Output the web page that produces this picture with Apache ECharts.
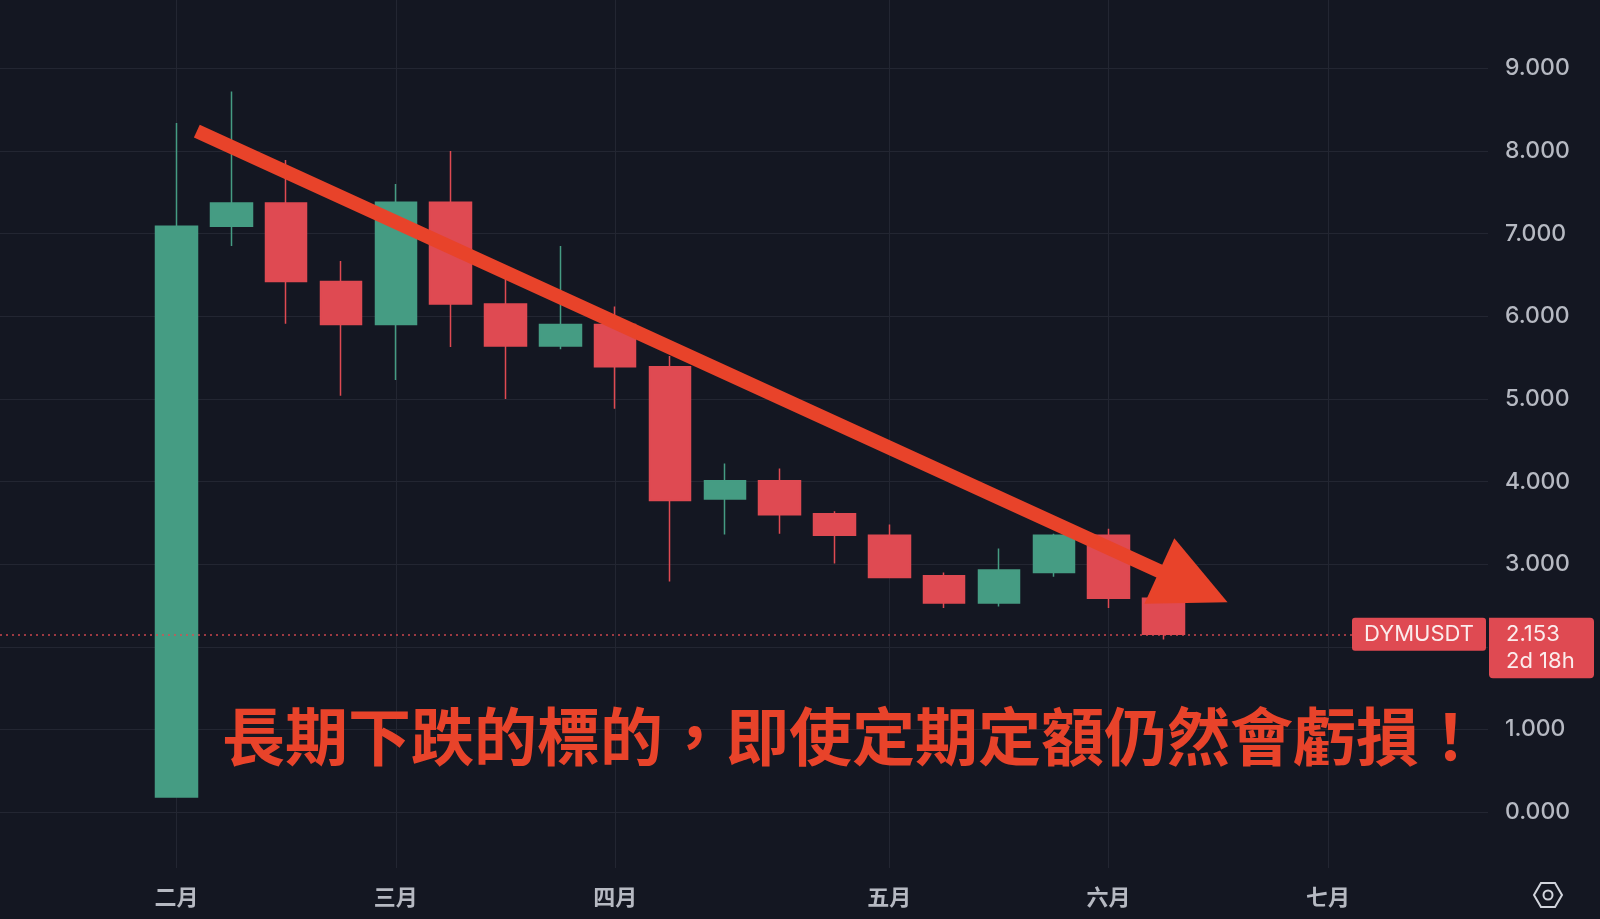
<!DOCTYPE html>
<html>
<head>
<meta charset="utf-8">
<script src="https://cdn.jsdelivr.net/npm/echarts@6/dist/echarts.min.js"></script>
<style>
html,body{margin:0;padding:0;background:#141722;}
#c{width:1600px;height:919px;}
</style>
</head>
<body>
<div id="c"></div>
<script>
// Weekly candles, DYMUSDT
const weeks  = ['2024-02-05','2024-02-12','2024-02-19','2024-02-26','2024-03-04','2024-03-11','2024-03-18','2024-03-25',
                '2024-04-01','2024-04-08','2024-04-15','2024-04-22','2024-04-29','2024-05-06','2024-05-13','2024-05-20',
                '2024-05-27','2024-06-03','2024-06-10'];
const opens  = [0.185, 7.09, 7.37, 6.42, 5.90, 7.38, 6.15, 5.64, 5.90, 5.39, 3.79, 4.01, 3.61, 3.35, 2.86, 2.53, 2.90, 3.35, 2.59];
const closes = [7.09, 7.37, 6.42, 5.90, 7.38, 6.15, 5.64, 5.90, 5.39, 3.77, 4.01, 3.60, 3.35, 2.84, 2.53, 2.93, 3.35, 2.59, 2.153];
const lows   = [0.185, 6.85, 5.91, 5.04, 5.23, 5.63, 5.00, 5.60, 4.88, 2.79, 3.36, 3.37, 3.01, 2.84, 2.47, 2.49, 2.85, 2.47, 2.09];
const highs  = [8.34, 8.72, 7.89, 6.67, 7.60, 8.00, 6.48, 6.85, 6.12, 5.52, 4.22, 4.16, 3.64, 3.48, 2.90, 3.19, 3.37, 3.43, 2.59];

const monthTicks  = [0, 4, 8, 13, 17, 21];
const monthLabels = ['二月', '三月', '四月', '五月', '六月', '七月'];
const priceTicks  = [0, 1, 2, 3, 4, 5, 6, 7, 8, 9];

const symbolName = 'DYMUSDT';
const countdown = '2d 18h';
// trend arrow endpoints in data space [week index, price]
const trendArrow = [[0.37, 8.24], [19.17, 2.54]];
const annotation = '長期下跌的標的，即使定期定額仍然會虧損！';

const UP = '#459c83', DOWN = '#df4a52', GRID = '#232632', LABEL = '#b6b9c2', ARROW = '#e8432a';

const chart = echarts.init(document.getElementById('c'), null, {renderer: 'canvas'});
const candleData = weeks.map((w, i) => [i, opens[i], closes[i], lows[i], highs[i]]);
const lastClose = closes[closes.length - 1];

chart.setOption({
  animation: false,
  backgroundColor: '#141722',
  grid: {left: 0, right: 112, top: 0, bottom: 51, containLabel: false},
  xAxis: {
    type: 'value', min: -3.22, max: 23.92,
    axisLine: {show: false},
    axisTick: {show: false, customValues: monthTicks},
    axisLabel: {
      customValues: monthTicks,
      formatter: v => monthLabels[monthTicks.indexOf(Math.round(v))] || '',
      color: LABEL, fontSize: 22, fontWeight: 'bold', margin: 18,
      fontFamily: '"Noto Sans CJK TC", "Noto Sans CJK SC", sans-serif'
    },
    splitLine: {show: true, lineStyle: {color: GRID, width: 1}}
  },
  yAxis: {
    type: 'value', position: 'right', min: -0.675, max: 9.827, scale: true,
    axisLine: {show: false},
    axisTick: {show: false, customValues: priceTicks},
    axisLabel: {
      customValues: priceTicks,
      formatter: v => v.toFixed(3),
      color: LABEL, fontSize: 23, fontWeight: 500, margin: 17, align: 'left',
      fontFamily: 'Inter, Roboto, sans-serif'
    },
    splitLine: {show: true, lineStyle: {color: GRID, width: 1}}
  },
  series: [{
    type: 'candlestick',
    data: candleData,
    encode: {x: 0, y: [1, 2, 3, 4]},
    barWidth: 42,
    itemStyle: {color: UP, color0: DOWN, borderColor: UP, borderColor0: DOWN, borderWidth: 1.5},
    markLine: {
      silent: true, symbol: 'none', animation: false,
      label: {show: false},
      lineStyle: {color: DOWN, type: [2, 4], width: 1.5, opacity: 0.9},
      data: [{yAxis: lastClose}]
    }
  }]
});

function drawOverlays() {
  const p0 = chart.convertToPixel({gridIndex: 0}, trendArrow[0]);
  const p1 = chart.convertToPixel({gridIndex: 0}, trendArrow[1]);
  const dx = p1[0] - p0[0], dy = p1[1] - p0[1];
  const len = Math.sqrt(dx * dx + dy * dy);
  const ux = dx / len, uy = dy / len;
  const headLen = 75, headHalf = 36;
  const bx = p1[0] - ux * headLen, by = p1[1] - uy * headLen;
  const py = chart.convertToPixel({yAxisIndex: 0}, lastClose);

  const g = [
    {type: 'line', z: 50, shape: {x1: p0[0], y1: p0[1], x2: bx + ux * 6, y2: by + uy * 6},
     style: {stroke: ARROW, lineWidth: 14, lineCap: 'butt'}},
    {type: 'polygon', z: 50, shape: {points: [[p1[0], p1[1]], [bx - uy * headHalf, by + ux * headHalf], [bx + uy * headHalf, by - ux * headHalf]]},
     style: {fill: ARROW}},
    {type: 'text', z: 60, left: 222, top: 743 - 38,
     style: {text: annotation, fill: ARROW, font: 'bold 63px "Noto Sans CJK TC", "Noto Sans CJK SC", sans-serif'}},
    // price tags
    {type: 'rect', z: 60, shape: {x: 1352, y: py - 16.5, width: 134, height: 33, r: 3}, style: {fill: DOWN}},
    {type: 'text', z: 61, x: 1419, y: py, style: {text: symbolName, fill: '#fbecec', font: '22px Inter, Roboto, sans-serif', align: 'center', verticalAlign: 'middle'}},
    {type: 'rect', z: 60, shape: {x: 1489, y: py - 16.5, width: 105, height: 60.5, r: [0, 4, 4, 4]}, style: {fill: DOWN}},
    {type: 'text', z: 61, x: 1506, y: py, style: {text: lastClose.toFixed(3), fill: '#fbecec', font: '22px Inter, Roboto, sans-serif', align: 'left', verticalAlign: 'middle'}},
    {type: 'text', z: 61, x: 1506, y: py + 27.5, style: {text: countdown, fill: '#fbecec', font: '22px Inter, Roboto, sans-serif', align: 'left', verticalAlign: 'middle'}},
    // settings icon
    {type: 'polygon', z: 60, shape: {points: [[1534, 895], [1541, 883], [1555, 883], [1562, 895], [1555, 907], [1541, 907]]},
     style: {fill: 'none', stroke: '#d1d4dc', lineWidth: 2}},
    {type: 'circle', z: 60, shape: {cx: 1548, cy: 895, r: 4.5}, style: {fill: 'none', stroke: '#d1d4dc', lineWidth: 2}}
  ];
  chart.setOption({graphic: g});
}
drawOverlays();
</script>
</body>
</html>
